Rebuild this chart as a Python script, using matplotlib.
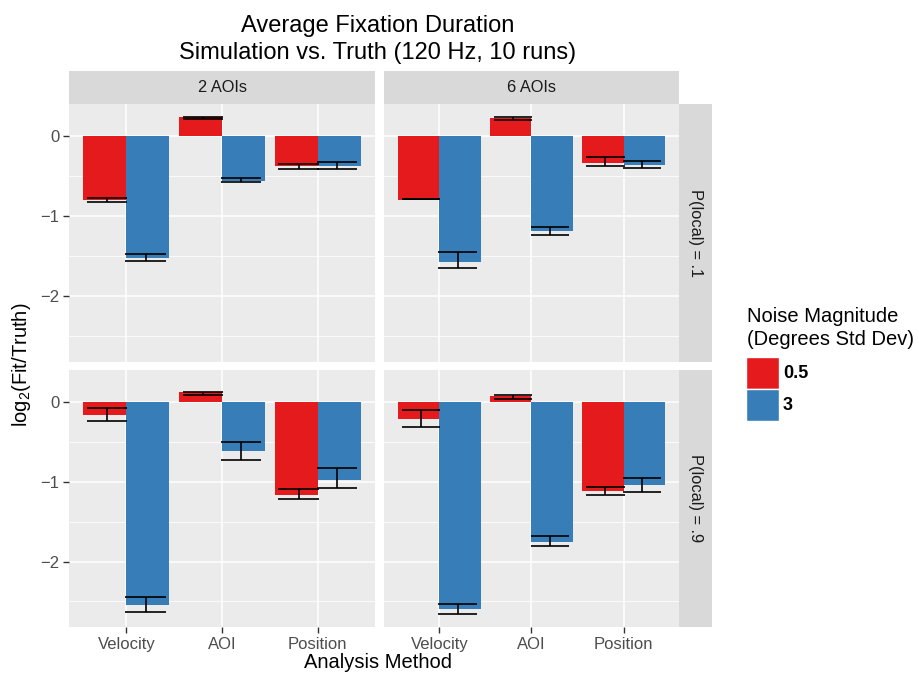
import matplotlib
matplotlib.use("Agg")
import numpy as np
import matplotlib.pyplot as plt
from matplotlib.patches import Rectangle

plt.rcParams['font.family'] = ['Liberation Sans', 'DejaVu Sans']

methods = ["Velocity", "AOI", "Position"]
aoi_labels = ["2 AOIs", "6 AOIs"]
plocal_labels = ["P(local) = .1", "P(local) = .9"]
noise_labels = ["0.5", "3"]

# panels in order: (.1, 2 AOIs), (.1, 6 AOIs), (.9, 2 AOIs), (.9, 6 AOIs)
mean_05 = [[-0.80, 0.24, -0.38], [-0.80, 0.23, -0.34],
           [-0.16, 0.12, -1.17], [-0.215, 0.07, -1.12]]
lo_05 = [[-0.82, 0.215, -0.415], [-0.79, 0.195, -0.37],
         [-0.24, 0.09, -1.21], [-0.315, 0.035, -1.17]]
hi_05 = [[-0.77, 0.235, -0.355], [-0.78, 0.24, -0.26],
         [-0.07, 0.13, -1.095], [-0.10, 0.085, -1.06]]

mean_3 = [[-1.52, -0.56, -0.38], [-1.57, -1.19, -0.36],
          [-2.55, -0.62, -0.975], [-2.60, -1.75, -1.04]]
lo_3 = [[-1.56, -0.575, -0.415], [-1.645, -1.23, -0.395],
        [-2.63, -0.725, -1.075], [-2.66, -1.81, -1.13]]
hi_3 = [[-1.47, -0.525, -0.33], [-1.45, -1.14, -0.31],
        [-2.45, -0.50, -0.83], [-2.53, -1.675, -0.95]]

red = "#E41A1C"
blue = "#377EB8"

W, H = 920, 675
fig = plt.figure(figsize=(W / 100, H / 100), dpi=100)


def box(x0, y0, x1, y1):
    return [x0 / W, 1 - y1 / H, (x1 - x0) / W, (y1 - y0) / H]


cols_px = [(69, 375), (384, 679)]
rows_px = [(104, 362), (370, 627)]
x = np.arange(1, len(methods) + 1)

for r in range(2):
    for c in range(2):
        k = r * 2 + c
        ax = fig.add_axes(box(cols_px[c][0], rows_px[r][0], cols_px[c][1], rows_px[r][1]))
        ax.set_facecolor("#EBEBEB")
        for s in ax.spines.values():
            s.set_visible(False)
        ax.set_xlim(0.4, 3.6)
        ax.set_ylim(-2.82, 0.40)
        ax.set_xticks(x)
        ax.set_xticklabels(methods)
        ax.set_yticks([-2, -1, 0])
        ax.set_yticks([-2.5, -1.5, -0.5], minor=True)
        ax.set_axisbelow(True)
        ax.grid(True, which="major", color="white", lw=1.1)
        ax.grid(True, which="minor", axis="y", color="white", lw=0.55)
        ax.tick_params(which="major", length=4, width=1, color="#333333",
                       labelcolor="#4D4D4D", labelsize=12, pad=3)
        ax.tick_params(which="minor", left=False)

        ax.bar(x - 0.225, mean_05[k], width=0.45, color=red)
        ax.bar(x + 0.225, mean_3[k], width=0.45, color=blue)
        for off, lo, hi in [(-0.2, lo_05[k], hi_05[k]), (0.2, lo_3[k], hi_3[k])]:
            xc = x + off
            ax.vlines(xc, lo, hi, color="black", lw=1.2)
            ax.hlines(lo, xc - 0.21, xc + 0.21, color="black", lw=1.2)
            ax.hlines(hi, xc - 0.21, xc + 0.21, color="black", lw=1.2)

        if c != 0:
            ax.tick_params(left=False, labelleft=False)
        if r != 1:
            ax.tick_params(bottom=False, labelbottom=False)

        if r == 0:
            sax = fig.add_axes(box(cols_px[c][0], 71, cols_px[c][1], 104))
            sax.set_facecolor("#D9D9D9")
            sax.set_xticks([])
            sax.set_yticks([])
            for s in sax.spines.values():
                s.set_visible(False)
            sax.text(0.5, 0.5, aoi_labels[c], ha="center", va="center",
                     fontsize=11.8, color="#1A1A1A", transform=sax.transAxes)
        if c == 1:
            sax = fig.add_axes(box(679, rows_px[r][0], 712, rows_px[r][1]))
            sax.set_facecolor("#D9D9D9")
            sax.set_xticks([])
            sax.set_yticks([])
            for s in sax.spines.values():
                s.set_visible(False)
            sax.text(0.5, 0.5, plocal_labels[r], ha="center", va="center",
                     rotation=-90, fontsize=11.8, color="#1A1A1A", transform=sax.transAxes)

# titles
fig.text(378 / W, 1 - 32 / H, "Average Fixation Duration", ha="center",
         va="baseline", fontsize=17)
fig.text(378 / W, 1 - 59 / H, "Simulation vs. Truth (120 Hz, 10 runs)", ha="center",
         va="baseline", fontsize=17)
fig.text(378 / W, 1 - 663 / H, "Analysis Method", ha="center", va="center", fontsize=14.5)
fig.text(22 / W, 1 - 365 / H, r"log$_\mathregular{2}$(Fit/Truth)", ha="center",
         va="center", rotation=90, fontsize=14.5)

# legend
fig.text(747 / W, 1 - 317 / H, "Noise Magnitude", ha="left", va="center", fontsize=14.5)
fig.text(747 / W, 1 - 340 / H, "(Degrees Std Dev)", ha="left", va="center", fontsize=14.5)
for i, (lab, col) in enumerate(zip(noise_labels, [red, blue])):
    y0 = 357 + i * 32
    fig.add_artist(Rectangle((746 / W, 1 - (y0 + 32) / H), 33 / W, 32 / H,
                             transform=fig.transFigure, facecolor=col,
                             edgecolor="white", lw=1))
    fig.text(783 / W, 1 - (y0 + 16) / H, lab, ha="left", va="center",
             fontsize=13, fontweight="bold")

fig.savefig("out.png", dpi=100)
